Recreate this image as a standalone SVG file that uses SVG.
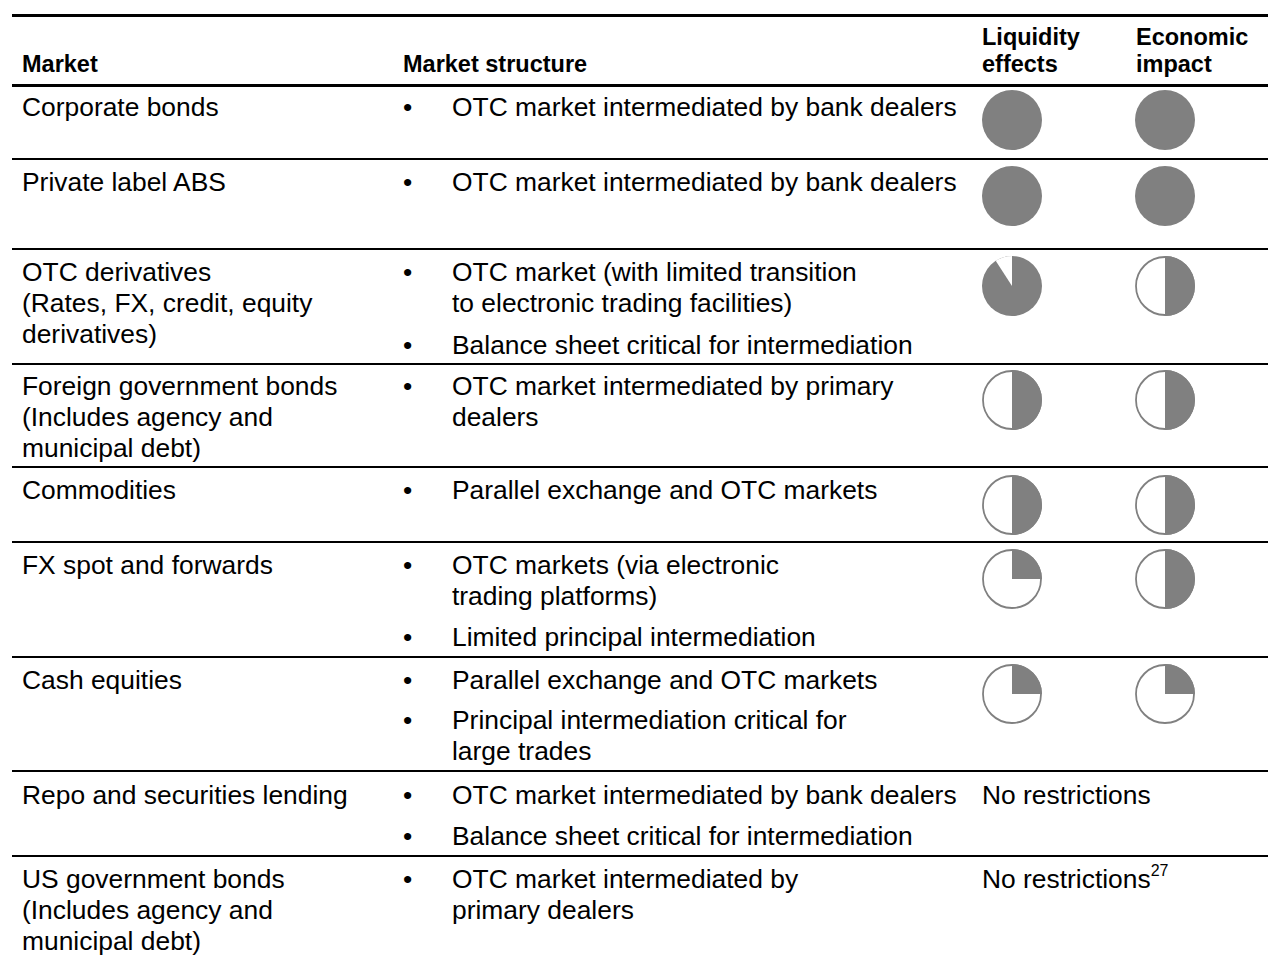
<svg xmlns="http://www.w3.org/2000/svg" width="1268" height="955" viewBox="0 0 1268 955">
<style>
text{font-family:"Liberation Sans",Arial,sans-serif;fill:#000}
.h{font-size:23.5px;font-weight:bold}
.t{font-size:26.4px}
.sup{font-size:16px}
.rule{stroke:#000;stroke-width:2}
.thick{stroke:#000;stroke-width:3}
.full{fill:#808080}
.ring{fill:#fff;stroke:#808080;stroke-width:1.8}
.pie{fill:#808080}
</style>
<defs>
<g id="fullc"><circle r="30" class="full"/></g>
<g id="halfc"><circle r="29" class="ring"/><path class="pie" d="M0,-30 A30,30 0 0 1 0,30 Z"/></g>
<g id="quarc"><circle r="29" class="ring"/><path class="pie" d="M0,0 L0,-30 A30,30 0 0 1 30,0 Z"/></g>
<g id="mostc"><circle r="30" class="full"/><path fill="#fff" d="M0,0 L0,-30 A30,30 0 0 0 -16.3,-25.2 Z"/></g>
</defs>
<g id="rules">
<line class="thick" x1="12" y1="15.5" x2="1268" y2="15.5"/>
<line class="thick" x1="12" y1="85.5" x2="1268" y2="85.5"/>
<line class="rule" x1="12" y1="159" x2="1268" y2="159"/>
<line class="rule" x1="12" y1="249" x2="1268" y2="249"/>
<line class="rule" x1="12" y1="364" x2="1268" y2="364"/>
<line class="rule" x1="12" y1="467" x2="1268" y2="467"/>
<line class="rule" x1="12" y1="542" x2="1268" y2="542"/>
<line class="rule" x1="12" y1="657" x2="1268" y2="657"/>
<line class="rule" x1="12" y1="771" x2="1268" y2="771"/>
<line class="rule" x1="12" y1="856" x2="1268" y2="856"/>
</g>
<g id="header">
<text class="h" x="22" y="72">Market</text>
<text class="h" x="403" y="72">Market structure</text>
<text class="h" x="982" y="45">Liquidity</text>
<text class="h" x="982" y="72">effects</text>
<text class="h" x="1136" y="45">Economic</text>
<text class="h" x="1136" y="72">impact</text>
</g>
<g id="row-corporate">
<text class="t" x="22" y="116">Corporate bonds</text>
<text class="t" x="403" y="116">•</text>
<text class="t" x="452" y="116">OTC market intermediated by bank dealers</text>
<use href="#fullc" x="1012" y="120"/>
<use href="#fullc" x="1165" y="120"/>
</g>
<g id="row-abs">
<text class="t" x="22" y="191">Private label ABS</text>
<text class="t" x="403" y="191">•</text>
<text class="t" x="452" y="191">OTC market intermediated by bank dealers</text>
<use href="#fullc" x="1012" y="196"/>
<use href="#fullc" x="1165" y="196"/>
</g>
<g id="row-otcd">
<text class="t" x="22" y="281">OTC derivatives</text>
<text class="t" x="22" y="312">(Rates, FX, credit, equity</text>
<text class="t" x="22" y="343">derivatives)</text>
<text class="t" x="403" y="281">•</text>
<text class="t" x="452" y="281">OTC market (with limited transition</text>
<text class="t" x="452" y="312">to electronic trading facilities)</text>
<text class="t" x="403" y="354">•</text>
<text class="t" x="452" y="354">Balance sheet critical for intermediation</text>
<use href="#mostc" x="1012" y="286"/>
<use href="#halfc" x="1165" y="286"/>
</g>
<g id="row-foreign">
<text class="t" x="22" y="395">Foreign government bonds</text>
<text class="t" x="22" y="426">(Includes agency and</text>
<text class="t" x="22" y="457">municipal debt)</text>
<text class="t" x="403" y="395">•</text>
<text class="t" x="452" y="395">OTC market intermediated by primary</text>
<text class="t" x="452" y="426">dealers</text>
<use href="#halfc" x="1012" y="400"/>
<use href="#halfc" x="1165" y="400"/>
</g>
<g id="row-commodities">
<text class="t" x="22" y="499">Commodities</text>
<text class="t" x="403" y="499">•</text>
<text class="t" x="452" y="499">Parallel exchange and OTC markets</text>
<use href="#halfc" x="1012" y="505"/>
<use href="#halfc" x="1165" y="505"/>
</g>
<g id="row-fx">
<text class="t" x="22" y="574">FX spot and forwards</text>
<text class="t" x="403" y="574">•</text>
<text class="t" x="452" y="574">OTC markets (via electronic</text>
<text class="t" x="452" y="605">trading platforms)</text>
<text class="t" x="403" y="646">•</text>
<text class="t" x="452" y="646">Limited principal intermediation</text>
<use href="#quarc" x="1012" y="579"/>
<use href="#halfc" x="1165" y="579"/>
</g>
<g id="row-cash">
<text class="t" x="22" y="689">Cash equities</text>
<text class="t" x="403" y="689">•</text>
<text class="t" x="452" y="689">Parallel exchange and OTC markets</text>
<text class="t" x="403" y="729">•</text>
<text class="t" x="452" y="729">Principal intermediation critical for</text>
<text class="t" x="452" y="760">large trades</text>
<use href="#quarc" x="1012" y="694"/>
<use href="#quarc" x="1165" y="694"/>
</g>
<g id="row-repo">
<text class="t" x="22" y="804">Repo and securities lending</text>
<text class="t" x="403" y="804">•</text>
<text class="t" x="452" y="804">OTC market intermediated by bank dealers</text>
<text class="t" x="403" y="845">•</text>
<text class="t" x="452" y="845">Balance sheet critical for intermediation</text>
<text class="t" x="982" y="804">No restrictions</text>
</g>
<g id="row-us">
<text class="t" x="22" y="888">US government bonds</text>
<text class="t" x="22" y="919">(Includes agency and</text>
<text class="t" x="22" y="950">municipal debt)</text>
<text class="t" x="403" y="888">•</text>
<text class="t" x="452" y="888">OTC market intermediated by</text>
<text class="t" x="452" y="919">primary dealers</text>
<text class="t" x="982" y="888">No restrictions<tspan class="sup" dy="-12">27</tspan></text>
</g>
</svg>
